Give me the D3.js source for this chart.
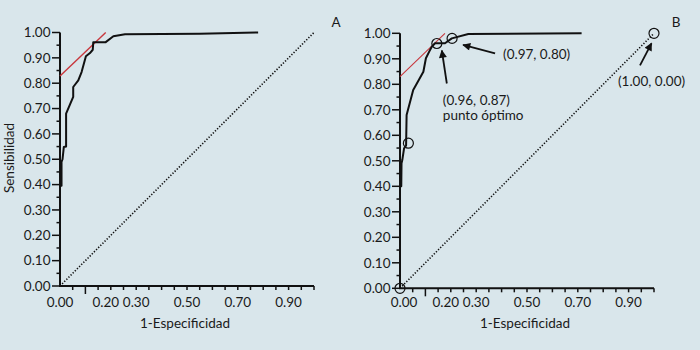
<!DOCTYPE html>
<html>
<head>
<meta charset="utf-8">
<script src="https://cdn.jsdelivr.net/npm/d3@7"></script>
<style>
  body { margin: 0; background: #d9e6eb; }
  svg { display: block; }
  text { font-family: Lato, "Open Sans", sans-serif; fill: #1a1a1a; }
</style>
</head>
<body>
<div id="chart"></div>
<script>
// Data: [1-especificidad, sensibilidad]
var rocA = [[0,0.395],[0.006,0.395],[0.006,0.49],[0.01,0.50],[0.015,0.548],[0.024,0.55],
            [0.024,0.68],[0.052,0.746],[0.052,0.785],[0.072,0.811],[0.085,0.844],[0.102,0.906],
            [0.118,0.919],[0.129,0.932],[0.131,0.962],[0.18,0.962],[0.21,0.985],[0.256,0.993],
            [0.55,0.995],[0.78,1.0]];
var rocB = [[0,0.40],[0.005,0.40],[0.006,0.49],[0.009,0.503],[0.016,0.549],[0.024,0.56],
            [0.026,0.68],[0.052,0.778],[0.063,0.797],[0.092,0.849],[0.102,0.902],[0.115,0.928],
            [0.125,0.947],[0.138,0.961],[0.177,0.961],[0.204,0.98],[0.269,0.997],[0.715,1.0]];
var tangentA = [[0,0.828],[0.18,1.0]];
var tangentB = [[0,0.83],[0.177,1.0]];
var diagonal = [[0,0],[1,1]];
var markedB = [[0,0],[0.033,0.569],[0.145,0.96],[0.205,0.98],[1,1]];
var xTickLabels = [0, 0.2, 0.3, 0.5, 0.7, 0.9];
var yTickLabels = [0,0.1,0.2,0.3,0.4,0.5,0.6,0.7,0.8,0.9,1.0];
var notesB = [
  {lines:["(0.96, 0.87)","punto óptimo"], at:[0.145,0.96]},
  {lines:["(0.97, 0.80)"], at:[0.205,0.98]},
  {lines:["(1.00, 0.00)"], at:[1,1]}
];

var W = 700, H = 350, FS = 13.5;
var svg = d3.select("#chart").append("svg").attr("width", W).attr("height", H);
svg.append("rect").attr("width", W).attr("height", H).attr("fill", "#d9e6eb");

var defs = svg.append("defs");
defs.append("marker").attr("id", "arrow").attr("viewBox", "0 0 10 10")
    .attr("refX", 9).attr("refY", 5).attr("markerWidth", 10).attr("markerHeight", 8)
    .attr("markerUnits", "userSpaceOnUse").attr("orient", "auto")
  .append("path").attr("d", "M0,0L10,5L0,10z").attr("fill", "#111");

var panels = [
  {left:60, right:314, top:32.5, bottom:286, name:"A", roc:rocA, tan:tangentA, tanW:1.4},
  {left:400, right:654, top:33.3, bottom:288.3, name:"B", roc:rocB, tan:tangentB, tanW:1.1}
];

var minor = d3.range(0, 21).map(function(i) { return i*0.05; });

panels.forEach(function(p, pi) {
  var x = d3.scaleLinear().domain([0,1]).range([p.left, p.right]);
  var y = d3.scaleLinear().domain([0,1]).range([p.bottom, p.top]);
  var g = svg.append("g");
  var line = d3.line().x(function(d){ return x(d[0]); }).y(function(d){ return y(d[1]); });

  // y ticks
  g.selectAll(".yt").data(minor).enter().append("line")
    .attr("x1", function(d,i){ return x(0) - (i%2===0 ? 8 : 3.5); })
    .attr("x2", x(0))
    .attr("y1", function(d){ return y(d); }).attr("y2", function(d){ return y(d); })
    .attr("stroke", "#111").attr("stroke-width", 1.5);
  g.selectAll(".yl").data(yTickLabels).enter().append("text")
    .attr("x", x(0) - 9.5).attr("y", function(d){ return y(d); })
    .attr("dy", "0.35em").attr("text-anchor", "end").attr("font-size", FS)
    .text(function(d){ return d3.format(".2f")(d); });

  // x ticks
  g.selectAll(".xt").data(minor.slice(1)).enter().append("line")
    .attr("x1", function(d){ return x(d); }).attr("x2", function(d){ return x(d); })
    .attr("y1", y(0))
    .attr("y2", function(d,i){ return y(0) + (i===1 ? 8 : 4); })
    .attr("stroke", "#111").attr("stroke-width", 1.5);
  g.selectAll(".xl").data(xTickLabels).enter().append("text")
    .attr("x", function(d){ return x(d) + (d === 0.2 ? -5 : 0) + (d === 0 && pi === 1 ? 4 : 0); })
    .attr("y", y(0) + 21 - pi*2.5)
    .attr("text-anchor", "middle").attr("font-size", FS)
    .text(function(d){ return d3.format(".2f")(d); });

  // axis lines
  g.append("path").attr("d", "M" + x(0) + "," + y(1) + "V" + y(0) + "H" + x(1))
    .attr("fill", "none").attr("stroke", "#111").attr("stroke-width", 2);

  g.append("text").attr("x", (x(0)+x(1))/2 - 2).attr("y", 327.5)
    .attr("text-anchor", "middle").attr("font-size", FS).text("1-Especificidad");
  g.append("text").attr("x", x(1) + 22).attr("y", 27)
    .attr("text-anchor", "middle").attr("font-size", FS).text(p.name);

  // diagonal (chance)
  g.append("path").attr("d", line(diagonal)).attr("fill", "none")
    .attr("stroke", "#111").attr("stroke-width", 1.6).attr("stroke-dasharray", "1.3,1.7");
  // tangent
  g.append("path").attr("d", line(p.tan)).attr("fill", "none")
    .attr("stroke", "#c8373d").attr("stroke-width", p.tanW);
  // ROC curve
  g.append("path").attr("d", line(p.roc)).attr("fill", "none")
    .attr("stroke", "#111").attr("stroke-width", 2).attr("stroke-linejoin", "round");

  if (p.name === "B") {
    g.selectAll(".pt").data(markedB).enter().append("circle")
      .attr("cx", function(d){ return x(d[0]); }).attr("cy", function(d){ return y(d[1]); })
      .attr("r", 5).attr("fill", "none").attr("stroke", "#111").attr("stroke-width", 1.2);

    // arrows and notes (offsets in px from the marked point)
    var arrowFrom = [[10,40],[43,15],[-14,32]];
    var arrowTo = [[5,7],[11,6.5],[-2.5,10]];
    var textAt = [[6,61],[51,21],[-36,52.5]];
    notesB.forEach(function(n, i) {
      var px = x(n.at[0]), py = y(n.at[1]);
      g.append("line")
        .attr("x1", px + arrowFrom[i][0]).attr("y1", py + arrowFrom[i][1])
        .attr("x2", px + arrowTo[i][0]).attr("y2", py + arrowTo[i][1])
        .attr("stroke", "#111").attr("stroke-width", 1.8).attr("marker-end", "url(#arrow)");
      var t = g.append("text").attr("x", px + textAt[i][0]).attr("y", py + textAt[i][1])
        .attr("font-size", FS);
      n.lines.forEach(function(s, j) {
        t.append("tspan").attr("x", px + textAt[i][0]).attr("dy", j === 0 ? 0 : 15.5).text(s);
      });
    });
  }
});

// y-axis title (panel A only)
svg.append("text").attr("transform", "translate(14,158) rotate(-90)")
  .attr("text-anchor", "middle").attr("font-size", FS).text("Sensibilidad");
</script>
</body>
</html>
